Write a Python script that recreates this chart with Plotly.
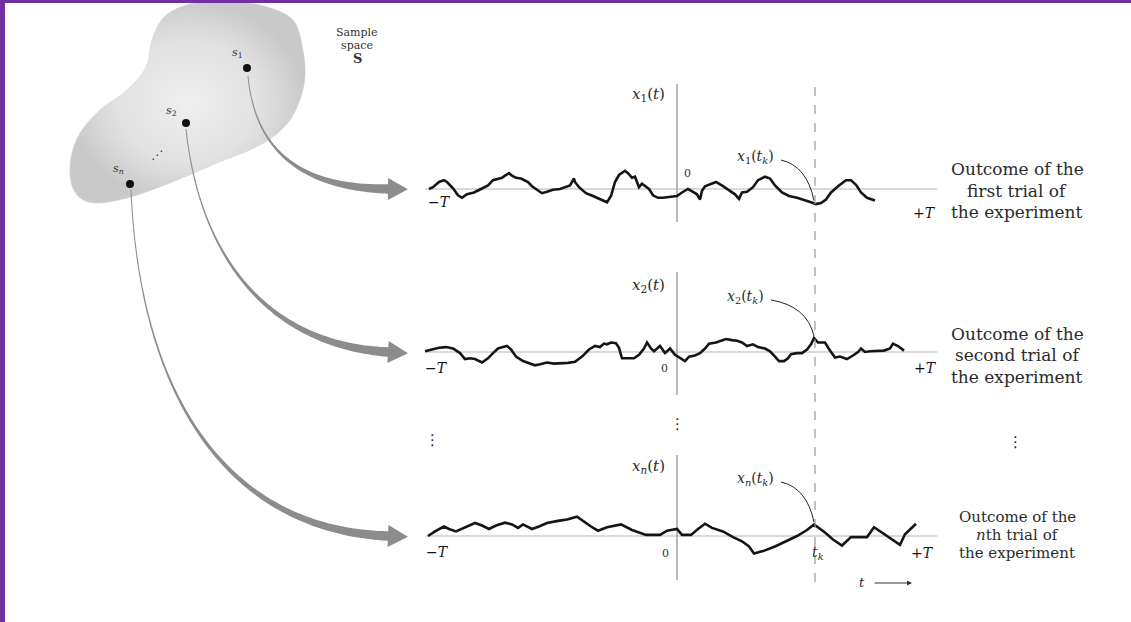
import numpy as np
import plotly.graph_objects as go

W, H = 1131, 622

# ---------------- data ----------------
T = 249          # half-length of the observation interval (time units)
t_k = 138        # sampling instant t_k

t_trial1 = [-248, -244, -238, -233, -230, -224, -219, -215, -210, -203, -196, -189, -184, -179, -175,
            -172, -168, -165, -161, -156, -152, -149, -145, -140, -135, -130, -124, -117, -112, -107,
            -103, -102, -98, -91, -84, -77, -70, -66, -62, -58, -52, -49, -45, -42, -38,
            -35, -31, -28, -24, -19, -14, -7, 0, 5, 11, 16, 20, 23, 25, 28,
            34, 39, 46, 53, 58, 62, 65, 70, 76, 81, 88, 93, 98, 105, 112,
            120, 126, 134, 139, 144, 149, 154, 162, 169, 174, 179, 184, 190, 198]
x_trial1 = [0, 1.8, 7.0, 8.8, 7.0, 0.7, -6.3, -8.8, -5.3, -3.5, 0, 3.5, 8.8, 10.5, 11.2,
            13.3, 15.8, 13.3, 11.2, 10.5, 8.8, 7.0, 2.8, -0.7, -4.2, -2.8, -0.7, 0, 1.8, 3.5,
            10.5, 7.0, 1.8, -4.2, -7.0, -9.8, -13.3, -7.0, 7.0, 14.0, 18.2, 15.8, 11.2, 12.3, 1.8,
            5.3, 1.8, 0, -6.3, -8.8, -8.8, -8.1, -7.0, -3.5, 0, -2.8, -5.3, -10.5, -1.8, 2.8,
            5.3, 7.0, 2.8, -1.8, -5.3, -9.8, -3.5, -2.8, 1.8, 8.8, 12.3, 10.5, 3.5, -3.5, -7.0,
            -8.8, -10.5, -13.3, -15.1, -14.0, -10.5, -3.5, 3.5, 8.8, 8.8, 4.2, -3.5, -8.8, -11.6]

t_trial2 = [-252, -245, -238, -231, -224, -217, -212, -207, -202, -195, -189, -184, -179, -174, -170,
            -166, -161, -154, -147, -142, -137, -130, -123, -116, -109, -102, -95, -88, -82, -77,
            -73, -70, -66, -61, -58, -55, -49, -43, -38, -33, -30, -26, -23, -17, -12,
            -7, -2, 4, 8, 12, 18, 23, 28, 32, 39, 44, 49, 55, 60, 65,
            70, 76, 81, 88, 93, 98, 102, 107, 111, 114, 120, 125, 130, 134, 137,
            141, 148, 153, 158, 163, 170, 176, 181, 184, 188, 193, 200, 207, 213, 216, 221, 227]
x_trial2 = [0.7, 2.5, 4.2, 4.9, 3.5, -1.1, -7.0, -6.3, -7.0, -10.5, -6.3, -1.1, 3.5, 4.9, 6.0,
            2.5, -4.6, -9.1, -11.6, -13.3, -12.3, -10.5, -11.6, -11.6, -10.9, -9.8, -4.6, 2.5, 6.0, 4.9,
            8.4, 7.7, 9.5, 8.8, 4.2, -6.3, -6.3, -6.3, -2.8, 3.5, 9.5, 3.5, 0.7, 6.0, -1.1,
            3.5, -2.8, -6.3, -9.1, -4.6, -3.5, -1.1, 3.5, 8.4, 9.5, 11.2, 13.0, 11.9, 11.2, 9.5,
            6.0, 7.7, 4.9, 3.5, 0.7, -4.6, -9.1, -9.1, -6.3, -2.1, -1.1, -1.1, 2.5, 7.7, 14.0,
            9.5, 9.5, 1.4, -5.6, -4.6, -7.0, -3.5, 0, 3.5, 0, 0.7, 0.7, 1.4, 3.5, 8.4, 6.0, 1.4]

t_trial3 = [-249, -242, -233, -228, -221, -212, -202, -195, -188, -181, -172, -165, -159, -154, -145,
            -138, -130, -119, -110, -100, -93, -86, -79, -70, -56, -45, -31, -17, -10, 0,
            5, 14, 21, 28, 35, 46, 56, 65, 72, 77, 86, 98, 109, 120, 130,
            137, 148, 156, 165, 174, 181, 190, 197, 207, 223, 228, 239]
x_trial3 = [0, 4.6, 9.5, 7.0, 4.6, 8.8, 13.0, 10.5, 7.0, 10.5, 13.3, 11.6, 8.1, 11.6, 7.0,
            9.5, 13.0, 15.1, 16.5, 19.3, 14.0, 9.5, 5.3, 8.8, 11.6, 6.0, 1.1, 1.1, 5.3, 7.0,
            1.1, 1.1, 7.0, 12.3, 8.1, 4.6, -1.1, -5.3, -10.5, -17.5, -15.1, -10.5, -5.3, 0, 6.0,
            11.6, 3.5, -3.5, -9.5, -1.1, -1.1, -1.1, 8.8, 1.8, -8.8, 1.8, 12.3]

trial_t = [t_trial1, t_trial2, t_trial3]
trial_x = [x_trial1, x_trial2, x_trial3]
axis_labels = ["<i>x</i><sub>1</sub>(<i>t</i>)", "<i>x</i><sub>2</sub>(<i>t</i>)", "<i>x<sub>n</sub></i>(<i>t</i>)"]
sample_labels = ["<i>x</i><sub>1</sub>(<i>t<sub>k</sub></i>)", "<i>x</i><sub>2</sub>(<i>t<sub>k</sub></i>)",
                 "<i>x<sub>n</sub></i>(<i>t<sub>k</sub></i>)"]
point_labels = ["<i>s</i><sub>1</sub>", "<i>s</i><sub>2</sub>", "<i>s<sub>n</sub></i>"]
outcome_text = [["Outcome of the", "first trial of", "the experiment"],
                ["Outcome of the", "second trial of", "the experiment"],
                ["Outcome of the", "<i>n</i>th trial of", "the experiment"]]

# ---------------- layout geometry (pixels) ----------------
PX_T0 = 677                     # pixel x of t = 0
PX_PER_T = 249 / T
XDOM = (400, 950)
BASE = [189, 352, 536]          # pixel y of each zero line
BAND = [(70, 232), (262, 402), (445, 592)]
VLINE = [(84, 222), (272, 395), (455, 580)]
POINTS = [(247, 68), (186, 123), (130, 184)]
BLOB = [(260, 5), (293, 20), (303, 50), (305, 77), (300, 100), (290, 120), (273, 137), (250, 150),
        (217, 163), (187, 176), (157, 188), (127, 198), (100, 203), (83, 200), (72, 186), (71, 157),
        (80, 133), (100, 110), (127, 90), (146, 67), (152, 40), (163, 18), (183, 6), (217, 1)]
ARROWS = [[(248, 76), (255, 150), (300, 188), (388, 189)],
          [(186, 129), (200, 260), (270, 345), (388, 352)],
          [(131, 190), (140, 400), (230, 530), (388, 536)]]

SERIF = "DejaVu Serif"
TXT = "#2b2b2b"

fig = go.Figure()

# blob (sample space)
bx = [p[0] for p in BLOB] + [BLOB[0][0]]
by = [p[1] for p in BLOB] + [BLOB[0][1]]
fig.add_trace(go.Scatter(x=bx, y=by, mode="lines", fill="toself", line=dict(color="#d2d2d2", width=0.5, shape="spline"),
                         fillgradient=dict(type="radial", colorscale=[[0, "#efefef"], [0.6, "#e2e2e2"], [1, "#c9c9c9"]]),
                         hoverinfo="skip", xaxis="x", yaxis="y"))

# sample points
fig.add_trace(go.Scatter(x=[p[0] for p in POINTS], y=[p[1] for p in POINTS], mode="markers",
                         marker=dict(color="#111", size=8), hoverinfo="skip", xaxis="x", yaxis="y"))

shapes = []


def tapered_arrow(ctrl, w0=1.0, w1=9.5, head_len=20, head_half=11, n=90):
    s = np.linspace(0, 1, n)
    P = np.array(ctrl, float)
    B = (((1 - s) ** 3)[:, None] * P[0] + (3 * (1 - s) ** 2 * s)[:, None] * P[1]
         + (3 * (1 - s) * s ** 2)[:, None] * P[2] + (s ** 3)[:, None] * P[3])
    D = ((3 * (1 - s) ** 2)[:, None] * (P[1] - P[0]) + (6 * (1 - s) * s)[:, None] * (P[2] - P[1])
         + (3 * s ** 2)[:, None] * (P[3] - P[2]))
    D /= np.linalg.norm(D, axis=1)[:, None]
    N = np.stack([-D[:, 1], D[:, 0]], axis=1)
    w = w0 + (w1 - w0) * s ** 2.0
    L = B + N * (w / 2)[:, None]
    R = B - N * (w / 2)[:, None]
    tip = P[3] + D[-1] * head_len
    hl = P[3] + N[-1] * head_half
    hr = P[3] - N[-1] * head_half
    pts = list(L) + [hl, tip, hr] + list(R[::-1])
    return "M " + " L ".join(f"{x:.1f},{y:.1f}" for x, y in pts) + " Z"


for ctrl in ARROWS:
    shapes.append(dict(type="path", xref="x", yref="y", path=tapered_arrow(ctrl),
                       fillcolor="#8c8c8c", line=dict(width=0), layer="above"))

layout_axes = {}
layout_axes["xaxis"] = dict(range=[0, W], domain=[0, 1], visible=False, fixedrange=True)
layout_axes["yaxis"] = dict(range=[H, 0], domain=[0, 1], visible=False, fixedrange=True)
layout_axes["xaxis2"] = dict(domain=[XDOM[0] / W, XDOM[1] / W],
                             range=[(XDOM[0] - PX_T0) / PX_PER_T, (XDOM[1] - PX_T0) / PX_PER_T],
                             visible=False, anchor="y2")

annotations = []
for k in range(3):
    yname = f"yaxis{k + 2}"
    yref = f"y{k + 2}"
    top, bot = BAND[k]
    b = BASE[k]
    layout_axes[yname] = dict(domain=[1 - bot / H, 1 - top / H], range=[b - bot, b - top],
                              visible=False, anchor="x2")
    # zero line
    shapes.append(dict(type="line", xref="x2", yref=yref, x0=-1.01 * T, x1=1.045 * T, y0=0, y1=0,
                       line=dict(color="#b4b4b4", width=1), layer="below"))
    # vertical x_k(t) axis
    v0, v1 = VLINE[k]
    shapes.append(dict(type="line", xref="x2", yref=yref, x0=0, x1=0, y0=b - v1, y1=b - v0,
                       line=dict(color="#a0a0a0", width=1.5), layer="below"))
    # waveform
    fig.add_trace(go.Scatter(x=trial_t[k], y=trial_x[k], mode="lines",
                             line=dict(color="#151515", width=2.6), hoverinfo="skip",
                             xaxis="x2", yaxis=yref))
    # pointer to x_k(t_k)
    val = float(np.interp(t_k, trial_t[k], trial_x[k]))
    px = PX_T0 + t_k * PX_PER_T
    py = b - val
    lx, ly = [(755, 157), (745, 297), (755, 479)][k]
    sx, sy = lx + 26, ly + 3
    shapes.append(dict(type="path", xref="x", yref="y",
                       path=f"M {sx},{sy} Q {px - 8},{sy + 6} {px - 1},{py - 3}",
                       line=dict(color="#222", width=1)))
    annotations.append(dict(xref="x", yref="y", x=lx, y=ly, text=sample_labels[k], showarrow=False,
                            font=dict(family=SERIF, size=14, color=TXT)))
    # axis label
    annotations.append(dict(xref="x", yref="y", x=648, y=[94, 285, 466][k], text=axis_labels[k],
                            showarrow=False, font=dict(family=SERIF, size=15, color=TXT)))
    # -T, 0, +T
    annotations.append(dict(xref="x", yref="y", x=[439, 436, 437][k], y=[202, 368, 552][k],
                            text="−<i>T</i>", showarrow=False, font=dict(family=SERIF, size=14, color="#111")))
    annotations.append(dict(xref="x", yref="y", x=[924, 925, 922][k], y=[213, 368, 553][k],
                            text="+<i>T</i>", showarrow=False, font=dict(family=SERIF, size=14, color="#111")))
    annotations.append(dict(xref="x", yref="y", x=[687, 664, 665][k], y=[173, 368, 553][k],
                            text="0", showarrow=False, font=dict(family=SERIF, size=11, color="#333")))
    # outcome text
    ys = [[169, 191, 212], [334, 355, 377], [517, 535, 553]][k]
    fs = [17, 17, 15][k]
    for line_txt, yy in zip(outcome_text[k], ys):
        annotations.append(dict(xref="x", yref="y", x=1017, y=yy, text=line_txt, showarrow=False,
                                font=dict(family=SERIF, size=fs, color=TXT)))

# dashed t_k line
shapes.append(dict(type="line", xref="x2", yref="paper", x0=t_k, x1=t_k, y0=1 - 582 / H, y1=1 - 80 / H,
                   line=dict(color="#999999", width=1.2, dash="dash")))

# t_k label and t arrow
annotations.append(dict(xref="x", yref="y", x=818, y=553, text="<i>t<sub>k</sub></i>", showarrow=False,
                        font=dict(family=SERIF, size=14, color=TXT)))
annotations.append(dict(xref="x", yref="y", x=862, y=582, text="<i>t</i>", showarrow=False,
                        font=dict(family=SERIF, size=13, color=TXT)))
annotations.append(dict(xref="x", yref="y", axref="x", ayref="y", x=912, y=583, ax=873, ay=583, text="",
                        showarrow=True, arrowhead=2, arrowsize=1, arrowwidth=1, arrowcolor="#333"))

# vertical ellipses
for ex, ey in [(432, 440), (677, 424), (1015, 442)]:
    annotations.append(dict(xref="x", yref="y", x=ex, y=ey, text="⋮", showarrow=False,
                            font=dict(family="DejaVu Sans", size=15, color="#222")))

# sample space labels
for (px_, py_), lab, (ox, oy) in zip(POINTS, point_labels, [(-10, -15), (-15, -12), (-12, -15)]):
    annotations.append(dict(xref="x", yref="y", x=px_ + ox, y=py_ + oy, text=lab, showarrow=False,
                            font=dict(family=SERIF, size=11, color="#333")))
annotations.append(dict(xref="x", yref="y", x=157, y=155, text="⋰", showarrow=False,
                        font=dict(family="DejaVu Sans", size=12, color="#333")))
for txt, yy, sz in [("Sample", 32, 11), ("space", 45, 11), ("<b>S</b>", 58, 13)]:
    annotations.append(dict(xref="x", yref="y", x=357, y=yy, text=txt, showarrow=False,
                            font=dict(family=SERIF, size=sz, color="#333")))

# purple frame
shapes.append(dict(type="rect", xref="paper", yref="paper", x0=0, x1=5 / W, y0=0, y1=1,
                   fillcolor="rgb(112,48,160)", line=dict(width=0), layer="above"))
shapes.append(dict(type="rect", xref="paper", yref="paper", x0=0, x1=1, y0=1 - 3 / H, y1=1,
                   fillcolor="rgb(112,48,160)", line=dict(width=0), layer="above"))

fig.update_layout(width=W, height=H, margin=dict(l=0, r=0, t=0, b=0),
                  paper_bgcolor="white", plot_bgcolor="rgba(0,0,0,0)", showlegend=False,
                  shapes=shapes, annotations=annotations, **layout_axes)

fig.write_html("out.html", config={"displayModeBar": False},
               post_script="document.body.style.margin='0';document.body.style.padding='0';")
